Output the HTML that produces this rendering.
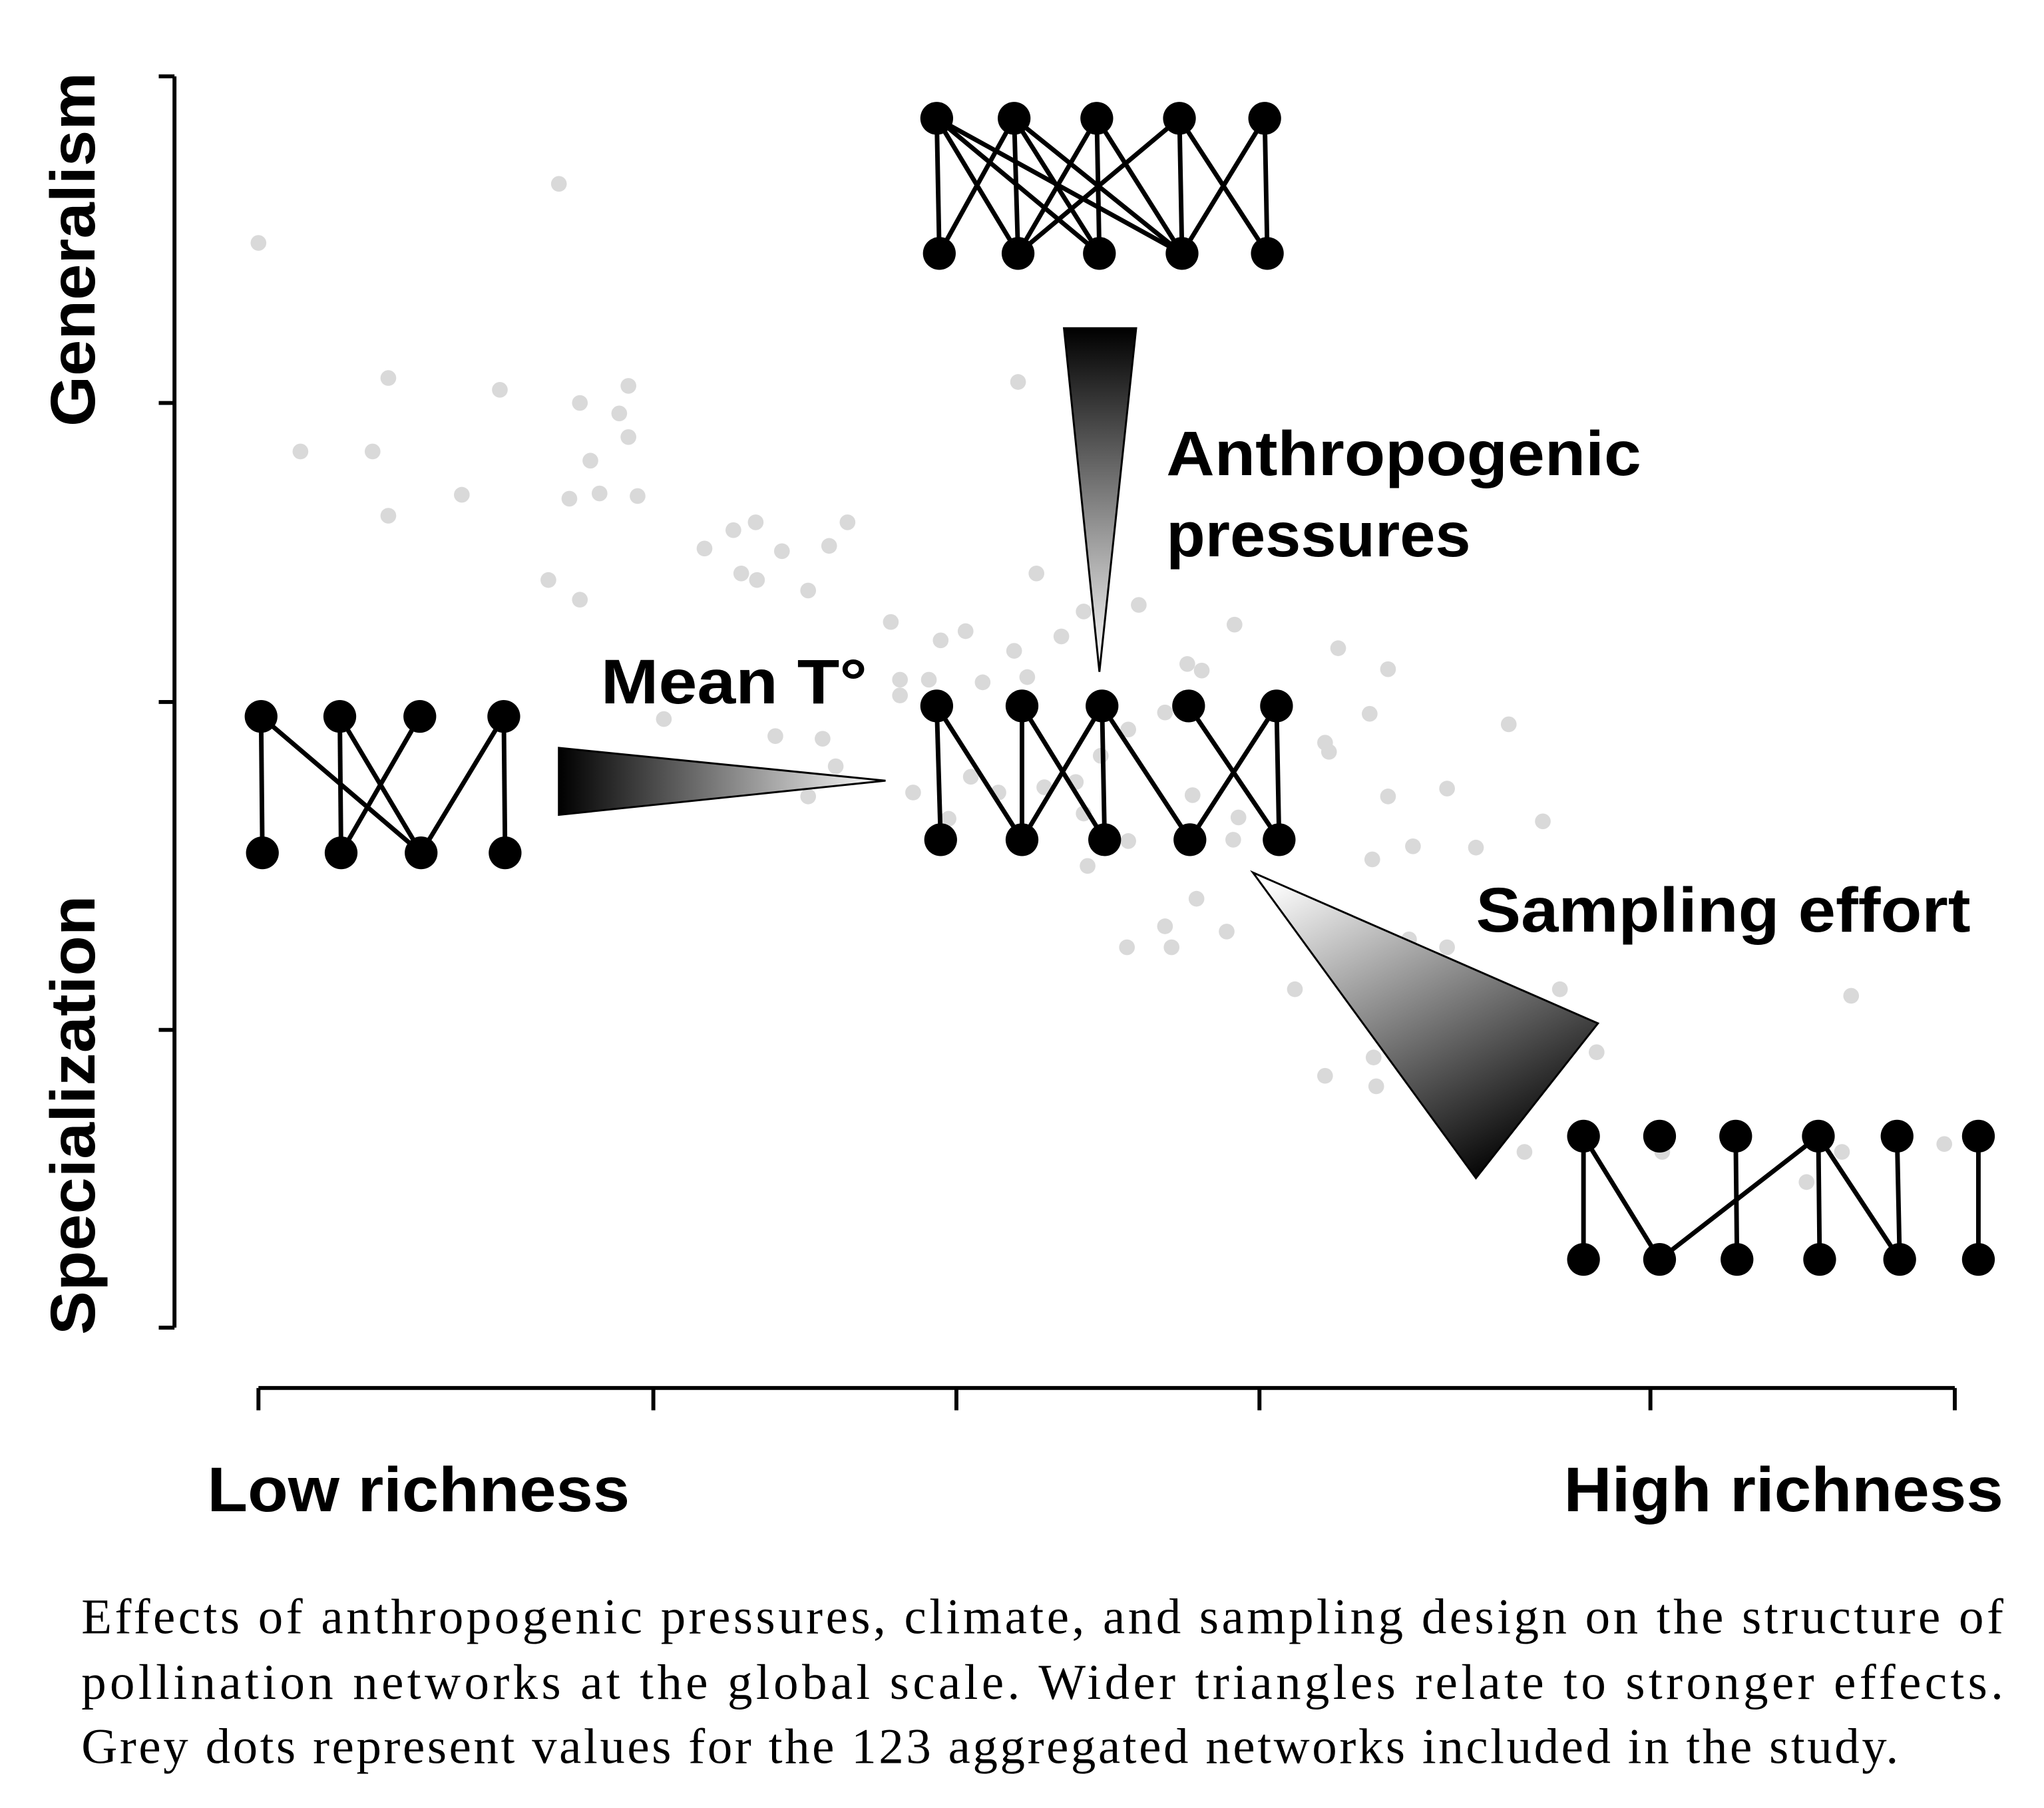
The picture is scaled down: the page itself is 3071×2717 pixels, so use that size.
<!DOCTYPE html>
<html><head><meta charset="utf-8"><style>
html,body{margin:0;padding:0;background:#fff}
svg{display:block}
.lab{font-family:"Liberation Sans",sans-serif;font-weight:bold;font-size:48px;fill:#000}
.cap{font-family:"Liberation Serif",serif;font-size:38px;fill:#000}
</style></head><body>
<svg id="chart" width="3071" height="2717" viewBox="0 0 1558 1378" xmlns="http://www.w3.org/2000/svg">
<defs>
<linearGradient id="gA" x1="0" y1="0" x2="0" y2="1"><stop offset="0" stop-color="#000"/><stop offset="1" stop-color="#fff"/></linearGradient>
<linearGradient id="gT" x1="0" y1="0" x2="1" y2="0"><stop offset="0" stop-color="#000"/><stop offset="1" stop-color="#fff"/></linearGradient>
<linearGradient id="gS" x1="0.1" y1="0" x2="0.7" y2="1"><stop offset="0" stop-color="#fff"/><stop offset="1" stop-color="#000"/></linearGradient>
</defs>
<g id="dots"></g>
<g stroke="#000" stroke-width="3">
<line x1="133" y1="58" x2="133" y2="1012"/>
<line x1="121" y1="58" x2="133" y2="58"/><line x1="121" y1="307" x2="133" y2="307"/><line x1="121" y1="535" x2="133" y2="535"/><line x1="121" y1="785" x2="133" y2="785"/><line x1="121" y1="1012" x2="133" y2="1012"/>
</g>
<g stroke="#000" stroke-width="3">
<line x1="197" y1="1058" x2="1490" y2="1058"/>
<line x1="197" y1="1058" x2="197" y2="1075"/><line x1="498" y1="1058" x2="498" y2="1075"/><line x1="729" y1="1058" x2="729" y2="1075"/><line x1="960" y1="1058" x2="960" y2="1075"/><line x1="1258" y1="1058" x2="1258" y2="1075"/><line x1="1490" y1="1058" x2="1490" y2="1075"/>
</g>
<text class="lab" transform="translate(72,190) rotate(-90)" text-anchor="middle" textLength="270" lengthAdjust="spacingAndGlyphs">Generalism</text>
<text class="lab" transform="translate(72,850) rotate(-90)" text-anchor="middle" textLength="335" lengthAdjust="spacingAndGlyphs">Specialization</text>
<text class="lab" x="158" y="1152" textLength="322" lengthAdjust="spacingAndGlyphs">Low richness</text>
<text class="lab" x="1192" y="1152" textLength="335" lengthAdjust="spacingAndGlyphs">High richness</text>
<polygon points="811,250 866,250 838,512" fill="url(#gA)" stroke="#000" stroke-width="1.5"/>
<polygon points="426,570 426,621 675,595" fill="url(#gT)" stroke="#000" stroke-width="1.5"/>
<polygon points="955,665 1218,780 1125,898" fill="url(#gS)" stroke="#000" stroke-width="1.5"/>
<text class="lab" x="889" y="362" textLength="362" lengthAdjust="spacingAndGlyphs">Anthropogenic</text>
<text class="lab" x="889" y="424" textLength="232" lengthAdjust="spacingAndGlyphs">pressures</text>
<text class="lab" x="458" y="536" textLength="203" lengthAdjust="spacingAndGlyphs">Mean T°</text>
<text class="lab" x="1125" y="710" textLength="377" lengthAdjust="spacingAndGlyphs">Sampling effort</text>
<g id="nets"></g>
<text class="cap" x="62" y="1245" textLength="1465" lengthAdjust="spacing">Effects of anthropogenic pressures, climate, and sampling design on the structure of</text>
<text class="cap" x="62" y="1295" textLength="1465" lengthAdjust="spacing">pollination networks at the global scale. Wider triangles relate to stronger effects.</text>
<text class="cap" x="62" y="1344" textLength="1385" lengthAdjust="spacing">Grey dots represent values for the 123 aggregated networks included in the study.</text>
</svg>
<script>
const dotX=[0,229,99,184,245,282,275,32,87,282,253,155,237,260,289,99,579,340,362,379,399,435,449,368,380,221,245,419,593,482,520,539,576,629,671,612,744,823,586,552,511,489,489,309,394,430,440,419,499,543,526,564,599,623,629,642,663,691,708,719,861,847,813,816,953,861,906,979,849,880,928,743,715,738,691,696,662,632,813,850,852,790,822,877,906,992,1020,965,1180,1207,1214,1285,1070,663,712,747];
const dotY=[827,872,724,715,705,718,697,668,668,679,661,635,632,636,634,619,721,594,608,614,592,596,614,575,570,570,555,562,575,538,524,531,516,546,551,527,536,518,496,492,494,494,482,464,451,449,428,405,408,420,388,408,412,416,392,436,456,469,506,501,502,468,446,439,460,405,411,386,357,367,366,372,327,302,306,290,290,352,192,206,184,258,294,296,290,258,210,134,111,134,253,140,134,371,406,389];
const SN="http://www.w3.org/2000/svg";
const xs=v=>197+v, ys=v=>1012-v;
const dg=document.getElementById('dots');
for(let i=0;i<dotX.length;i++){
  const c=document.createElementNS(SN,'circle');
  c.setAttribute('cx',xs(dotX[i]));c.setAttribute('cy',ys(dotY[i]));c.setAttribute('r',6);
  c.setAttribute('fill','#d9d9d9');
  
  
  dg.appendChild(c);
}
const nets=[
 {name:'generalist-network',top:[714,773,836,899,964],ty:90,bot:[716,776,838,901,966],by:193,
  e:[[0,0],[0,1],[0,2],[1,0],[1,1],[1,2],[1,3],[2,1],[2,2],[2,3],[3,1],[3,3],[3,4],[4,3],[4,4],[0,3]]},
 {name:'mid-network',top:[714,779,840,906,973],ty:538,bot:[717,779,842,907,975],by:640,
  e:[[0,0],[0,1],[1,1],[1,2],[2,1],[2,2],[2,3],[3,4],[4,3],[4,4]]},
 {name:'low-richness-network',top:[199,259,320,384],ty:546,bot:[200,260,321,385],by:650,
  e:[[0,0],[0,2],[1,1],[1,2],[2,1],[3,2],[3,3]]},
 {name:'high-richness-network',top:[1207,1265,1323,1386,1446,1508],ty:866,bot:[1207,1265,1324,1387,1448,1508],by:960,
  e:[[0,0],[0,1],[2,2],[3,1],[3,3],[3,4],[4,4],[5,5]]}
];
const ng=document.getElementById('nets');
nets.forEach(n=>{
  const g=document.createElementNS(SN,'g');
  
  
  n.e.forEach(([a,b])=>{
    const l=document.createElementNS(SN,'line');
    l.setAttribute('x1',n.top[a]);l.setAttribute('y1',n.ty);l.setAttribute('x2',n.bot[b]);l.setAttribute('y2',n.by);
    l.setAttribute('stroke','#000');l.setAttribute('stroke-width',3.5);
    
    
    g.appendChild(l);
  });
  [[n.top,n.ty],[n.bot,n.by]].forEach(([arr,y])=>arr.forEach(x=>{
    const c=document.createElementNS(SN,'circle');
    c.setAttribute('cx',x);c.setAttribute('cy',y);c.setAttribute('r',12.5);c.setAttribute('fill','#000');
    
    
    g.appendChild(c);
  }));
  ng.appendChild(g);
});
</script>
</body></html>
